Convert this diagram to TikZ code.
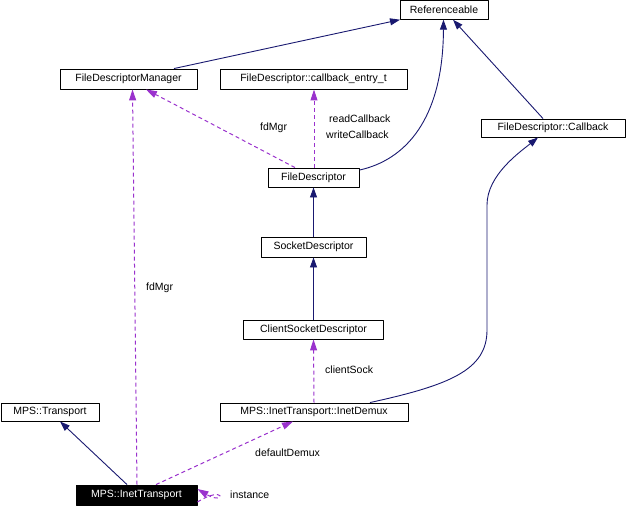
\documentclass[tikz,border=0pt]{standalone}
\usepackage{fontspec}
\setmainfont{Liberation Sans}
\usetikzlibrary{arrows.meta}
\definecolor{inhcol}{RGB}{25,25,112}
\definecolor{usecol}{RGB}{154,50,205}

\begin{document}
\begin{tikzpicture}[x=1pt, y=-1pt, line join=round,
  cls/.style={draw=black, line width=0.9pt, fill=white, inner sep=0pt,
    font=\fontsize{10.5}{12}\selectfont, minimum height=19pt},
  inh/.style={draw=inhcol, line width=0.9pt, -{Triangle[length=10pt,width=7pt]}},
  usedep/.style={draw=usecol, line width=1pt, dash pattern=on 4pt off 3pt,
    -{Triangle[length=11pt,width=7pt,fill=usecol]}},
  lbl/.style={font=\fontsize{10.5}{12}\selectfont, inner sep=0pt, anchor=west}]
  \useasboundingbox (0,0) rectangle (628,506);
  % the classes
  \node[cls, minimum width=88pt, minimum height=18.5pt] (ref) at (444,10) {Referenceable};
  \node[cls, minimum width=137pt, minimum height=20pt] (fdm) at (128.5,79) {FileDescriptorManager};
  \node[cls, minimum width=187pt, minimum height=20pt] (cbe) at (313.5,79) {FileDescriptor::callback\_entry\_t};
  \node[cls, minimum width=144pt, minimum height=18pt] (cb) at (553,128) {FileDescriptor::Callback};
  \node[cls, minimum width=91pt] (fd) at (313.5,177.5) {FileDescriptor};
  \node[cls, minimum width=105pt, minimum height=20pt] (sd) at (313.5,247) {SocketDescriptor};
  \node[cls, minimum width=140pt] (csd) at (313.5,329.5) {ClientSocketDescriptor};
  \node[cls, minimum width=188pt, minimum height=18pt] (demux) at (314,412) {MPS::InetTransport::InetDemux};
  \node[cls, minimum width=98pt, minimum height=18pt] (tr) at (50,412) {MPS::Transport};
  \node[cls, fill=black, text=white, minimum width=121pt, minimum height=20pt] (inet) at (136.5,495) {MPS::InetTransport};
  % inheritance
  \draw[inh] ([xshift=45.5pt]fdm.north) -- ([xshift=-44pt]ref.south);
  \draw[inh] ([yshift=-2.5pt]fd.north east) .. controls (405,160) and (443,120) .. ([xshift=-0.5pt]ref.south);
  \draw[inh] ([xshift=-10pt]cb.north) -- ([xshift=9pt]ref.south);
  \draw[inh] ([xshift=56pt]demux.north) .. controls (450,385) and (487,370) .. (487,330)
    -- (487,205) .. controls (487,175) and (520,152) .. ([xshift=-15pt]cb.south);
  \draw[inh] (sd.north) -- (fd.south);
  \draw[inh] (csd.north) -- (sd.south);
  \draw[inh] ([xshift=-9.5pt]inet.north) -- ([xshift=10pt]tr.south);
  % usage
  \draw[usedep] ([xshift=0.5pt]fd.north) -- ([xshift=0.5pt]cbe.south);
  \node[lbl] (rdcb) at (329,119) {readCallback};
  \node[lbl] (wrcb) at (326,135) {writeCallback};
  \draw[usedep] ([xshift=-18.5pt]fd.north) -- ([xshift=17.5pt]fdm.south);
  \node[lbl] (fdmgr1) at (260,128) {fdMgr};
  \draw[usedep] ([xshift=0.5pt]inet.north) -- ([xshift=4pt]fdm.south);
  \node[lbl] (fdmgr2) at (146,288) {fdMgr};
  \draw[usedep] (demux.north) -- (csd.south);
  \node[lbl] (csock) at (325,370) {clientSock};
  \draw[usedep] ([xshift=19.5pt]inet.north) -- ([xshift=-21pt]demux.south);
  \node[lbl] (ddmx) at (255,453) {defaultDemux};
  \draw[usedep] ([yshift=-7pt]inet.east) .. controls (226,484) and (226,506) .. ([yshift=6pt]inet.east);
  \node[lbl] (inst) at (230,495) {instance};
\end{tikzpicture}
\end{document}
